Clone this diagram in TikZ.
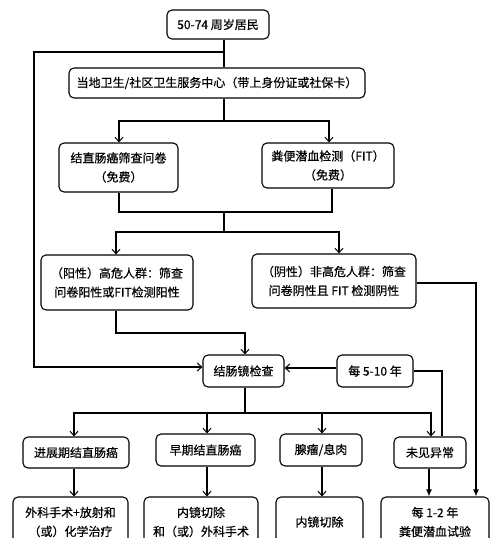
\documentclass[tikz,border=0pt]{standalone}
\usepackage{fontspec}
\setmainfont{Noto Sans CJK SC}[RawFeature={embolden=0.5}]
\usetikzlibrary{arrows.meta}
\tikzset{
  box/.style={draw, rounded corners=5pt, line width=1.1pt, align=center, inner sep=0pt,
    font=\fontsize{12pt}{19pt}\selectfont},
  conn/.style={line width=1.1pt},
  arr/.style={conn, -{Straight Barb[length=4.5pt,width=8pt,line width=1pt]}},
  farr/.style={conn, -{Latex[length=7pt,width=6pt]}},
}
\begin{document}
\begin{tikzpicture}[x=1pt,y=-1pt]
\useasboundingbox[fill=white] (0,0) rectangle (500,538);
% nodes
\node[box, minimum width=102pt, minimum height=29pt] (top) at (218,24.5) {50-74 周岁居民};
\node[box, minimum width=296pt, minimum height=30pt] (svc) at (217,83) {当地卫生/社区卫生服务中心（带上身份证或社保卡）};
\node[box, minimum width=119pt, minimum height=49pt] (q) at (118.5,167.5) {结直肠癌筛查问卷\\（免费）};
\node[box, minimum width=132pt, minimum height=45pt] (fit) at (328,165.5) {粪便潜血检测（FIT）\\（免费）};
\node[box, minimum width=152pt, minimum height=55pt] (pos) at (117,282.5) {（阳性）高危人群：筛查\\问卷阳性或FIT检测阳性};
\node[box, minimum width=164pt, minimum height=54pt] (neg) at (334,281) {（阴性）非高危人群：筛查\\问卷阴性且 FIT 检测阴性};
\node[box, minimum width=81pt, minimum height=32pt] (colo) at (243.5,371) {结肠镜检查};
\node[box, minimum width=76pt, minimum height=32pt] (every) at (375,371) {每 5-10 年};
\node[box, minimum width=106pt, minimum height=31pt] (adv) at (76,452.5) {进展期结直肠癌};
\node[box, minimum width=99pt, minimum height=32pt] (early) at (205.5,450) {早期结直肠癌};
\node[box, minimum width=82pt, minimum height=32pt] (aden) at (321,450) {腺瘤/息肉};
\node[box, minimum width=72pt, minimum height=31pt] (none) at (430,452.5) {未见异常};
\node[box, minimum width=115pt, minimum height=50pt] (f1) at (70.5,522) {外科手术+放射和\\（或）化学治疗};
\node[box, minimum width=114pt, minimum height=50pt] (f2) at (201,522) {内镜切除\\和（或）外科手术};
\node[box, minimum width=87pt, minimum height=50pt] (f3) at (319.5,522) {内镜切除};
\node[box, minimum width=108pt, minimum height=50pt] (f4) at (435,522) {每 1-2 年\\粪便潜血试验};
% coordinates
\coordinate (b1) at (224,52);
\coordinate (b2) at (224,121);
\coordinate (b3) at (224,212);
\coordinate (b4) at (224,232);
\coordinate (b5) at (245,413);
% connectors
\draw[conn] (top.south -| b1) -- (svc.north -| b1);
\draw[arr] (b1) -- (34,52) -- (34,367) -- (colo.west |- 0,367);
\draw[conn] (svc.south -| b2) -- (b2);
\draw[arr] (b2) -- (119,121) -- (q.north -| 119,0);
\draw[arr] (b2) -- (329,121) -- (fit.north -| 329,0);
\draw[conn] (q.south -| 119,0) -- (119,212) -- (332,212) -- (fit.south -| 332,0);
\draw[conn] (b3) -- (b4);
\draw[arr] (b4) -- (116,232) -- (pos.north -| 116,0);
\draw[arr] (b4) -- (339,232) -- (neg.north -| 339,0);
\draw[farr] (neg.east |- 0,283) -- (476,283) -- (f4.north -| 476,0);
\draw[arr] (pos.south -| 116,0) -- (116,333) -- (245,333) -- (colo.north -| 245,0);
\draw[arr] (every.west |- 0,368) -- (colo.east |- 0,368);
\draw[conn] (none.north -| 442,0) -- (442,371) -- (every.east |- 0,371);
\draw[conn] (colo.south -| b5) -- (b5);
\draw[arr] (b5) -- (74,413) -- (adv.north -| 74,0);
\draw[arr] (b5) -- (431,413) -- (none.north -| 431,0);
\draw[arr] (207,413) -- (early.north -| 207,0);
\draw[arr] (322,413) -- (aden.north -| 322,0);
\draw[arr] (adv.south -| 74,0) -- (f1.north -| 74,0);
\draw[arr] (early.south -| 207,0) -- (f2.north -| 207,0);
\draw[arr] (aden.south -| 322,0) -- (f3.north -| 322,0);
\draw[farr] (none.south -| 429,0) -- (f4.north -| 429,0);
\end{tikzpicture}
\end{document}
